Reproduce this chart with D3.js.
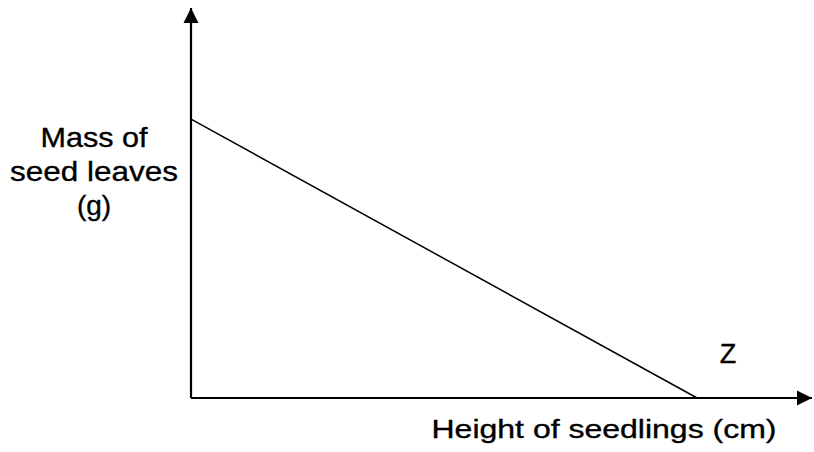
<!DOCTYPE html>
<html>
<head>
<meta charset="utf-8">
<script src="https://cdn.jsdelivr.net/npm/d3@7"></script>
<style>
  body { margin: 0; background: #fff; }
  text { font-family: Arial, "Liberation Sans", sans-serif; fill: #000; stroke: #000; stroke-width: 0.35; }
</style>
</head>
<body>
<script>
// Data (arbitrary units, no ticks on the original)
const height = [0, 81.5];      // Height of seedlings
const mass = [71.5, 0];        // Mass of seed leaves
const yLabelLines = ["Mass of", "seed leaves", "(g)"];
const yLabelWidths = [107, 168, null];
const xLabel = "Height of seedlings (cm)";
const pointLabel = "Z";

const W = 814, H = 452;

const svg = d3.select("body").append("svg")
    .attr("width", W)
    .attr("height", H)
    .attr("viewBox", [0, 0, W, H]);

const x = d3.scaleLinear().domain([0, 100]).range([191, 812]);
const y = d3.scaleLinear().domain([0, 100]).range([398, 8]);

// arrow heads
const defs = svg.append("defs");
defs.append("marker")
    .attr("id", "arrow")
    .attr("viewBox", "0 0 10 10")
    .attr("refX", 10).attr("refY", 5)
    .attr("markerWidth", 7).attr("markerHeight", 7)
    .attr("markerUnits", "strokeWidth")
    .attr("orient", "auto")
  .append("path")
    .attr("d", "M0,0 L10,5 L0,10 Z")
    .attr("fill", "#000");

// axes
svg.append("line")
    .attr("x1", x(0)).attr("y1", y(0))
    .attr("x2", x(0)).attr("y2", y(100))
    .attr("stroke", "#000").attr("stroke-width", 2.2)
    .attr("marker-end", "url(#arrow)");

svg.append("line")
    .attr("x1", x(0)).attr("y1", y(0))
    .attr("x2", x(100)).attr("y2", y(0))
    .attr("stroke", "#000").attr("stroke-width", 2.2)
    .attr("marker-end", "url(#arrow)");

// the line
const pts = height.map((h, i) => [h, mass[i]]);
svg.append("path")
    .datum(pts)
    .attr("fill", "none")
    .attr("stroke", "#000")
    .attr("stroke-width", 1.5)
    .attr("d", d3.line().x(d => x(d[0])).y(d => y(d[1])));

// labels
svg.append("g")
    .selectAll("text")
    .data(yLabelLines)
    .join("text")
    .attr("x", 94)
    .attr("y", (d, i) => 147 + i * 34)
    .attr("text-anchor", "middle")
    .attr("font-size", 28)
    .each(function (d, i) {
        if (yLabelWidths[i]) {
            d3.select(this)
                .attr("textLength", yLabelWidths[i])
                .attr("lengthAdjust", "spacingAndGlyphs");
        }
    })
    .text(d => d);

svg.append("text")
    .attr("x", 604)
    .attr("y", 438)
    .attr("text-anchor", "middle")
    .attr("font-size", 25)
    .attr("textLength", 345)
    .attr("lengthAdjust", "spacingAndGlyphs")
    .text(xLabel);

svg.append("text")
    .attr("x", 728)
    .attr("y", 363)
    .attr("text-anchor", "middle")
    .attr("font-size", 27)
    .text(pointLabel);
</script>
</body>
</html>
